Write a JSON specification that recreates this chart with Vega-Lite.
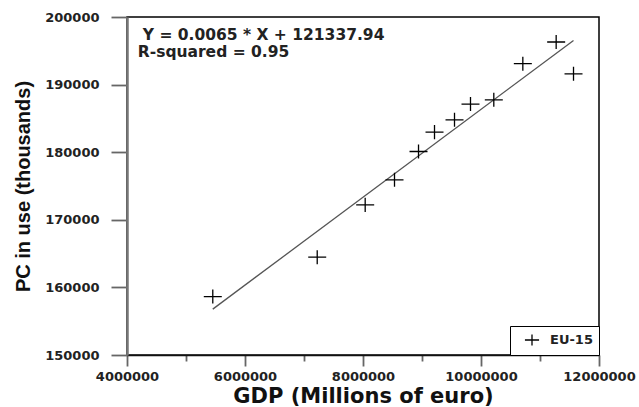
{
  "$schema": "https://vega.github.io/schema/vega-lite/v6.json",
  "width": 472,
  "height": 338,
  "autosize": "none",
  "padding": {"left": 127, "top": 17, "right": 40, "bottom": 52},
  "background": "white",
  "config": {
    "view": {"stroke": "#000", "strokeWidth": 1.5},
    "font": "DejaVu Sans",
    "axis": {"grid": false}
  },
  "datasets": {
    "points": [
      {"gdp": 5454000, "pc": 158650, "series": "EU-15"},
      {"gdp": 7224000, "pc": 164470, "series": "EU-15"},
      {"gdp": 8037000, "pc": 172210, "series": "EU-15"},
      {"gdp": 8534000, "pc": 175910, "series": "EU-15"},
      {"gdp": 8941000, "pc": 180100, "series": "EU-15"},
      {"gdp": 9212000, "pc": 182970, "series": "EU-15"},
      {"gdp": 9551000, "pc": 184790, "series": "EU-15"},
      {"gdp": 9822000, "pc": 187120, "series": "EU-15"},
      {"gdp": 10217000, "pc": 187750, "series": "EU-15"},
      {"gdp": 10709000, "pc": 193090, "series": "EU-15"},
      {"gdp": 11274000, "pc": 196300, "series": "EU-15"},
      {"gdp": 11568000, "pc": 191600, "series": "EU-15"}
    ],
    "fit": [
      {"gdp": 5454000, "pc": 156789},
      {"gdp": 11568000, "pc": 196530}
    ],
    "notes": [
      {"gdp": 4268000, "pc": 197276, "label": "Y = 0.0065 * X + 121337.94"},
      {"gdp": 4183000, "pc": 194818, "label": "R-squared = 0.95"}
    ]
  },
  "layer": [
    {
      "data": {"name": "fit"},
      "mark": {"type": "line", "color": "#555", "strokeWidth": 1.3},
      "encoding": {
        "x": {
          "field": "gdp",
          "type": "quantitative",
          "scale": {"domain": [4000000, 12000000], "nice": false, "zero": false},
          "axis": {
            "values": [4000000, 5000000, 6000000, 7000000, 8000000, 9000000, 10000000, 11000000, 12000000],
            "format": "d",
            "labelExpr": "datum.value % 2000000 === 0 ? datum.label : ''",
            "tickSize": {"condition": {"test": "datum.value % 2000000 === 0", "value": 11}, "value": 6},
            "tickColor": "#666",
            "tickWidth": 1.8,
            "domainColor": "#111",
            "domainWidth": 1.5,
            "labelFont": "DejaVu Sans",
            "labelFontWeight": "bold",
            "labelFontSize": 13,
            "labelColor": "#222",
            "labelPadding": 4,
            "labelFlush": false,
            "labelOverlap": false,
            "title": "GDP (Millions of euro)",
            "titleFont": "DejaVu Sans",
            "titleFontSize": 21,
            "titleFontWeight": "bold",
            "titleColor": "#111",
            "titlePadding": 2
          }
        },
        "y": {
          "field": "pc",
          "type": "quantitative",
          "scale": {"domain": [150000, 200000], "nice": false, "zero": false},
          "axis": {
            "values": [150000, 155000, 160000, 165000, 170000, 175000, 180000, 185000, 190000, 195000, 200000],
            "format": "d",
            "labelExpr": "datum.value % 10000 === 0 ? datum.label : ''",
            "tickSize": {"condition": {"test": "datum.value % 10000 === 0", "value": 16}, "value": 8},
            "tickColor": "#666",
            "tickWidth": 1.8,
            "domainColor": "#777",
            "domainWidth": 2.5,
            "labelFont": "DejaVu Sans",
            "labelFontWeight": "bold",
            "labelFontSize": 13,
            "labelColor": "#222",
            "labelPadding": 12,
            "labelFlush": false,
            "labelOverlap": false,
            "title": "PC in use (thousands)",
            "titleFont": "Liberation Sans",
            "titleFontSize": 20,
            "titleFontWeight": "bold",
            "titleColor": "#111",
            "titlePadding": 11
          }
        }
      }
    },
    {
      "data": {"name": "points"},
      "mark": {"type": "point", "shape": "M-1,0H1M0,-0.78V0.78", "filled": false, "size": 324, "strokeWidth": 1.3, "opacity": 1},
      "encoding": {
        "x": {"field": "gdp", "type": "quantitative"},
        "y": {"field": "pc", "type": "quantitative"},
        "color": {
          "field": "series",
          "type": "nominal",
          "scale": {"range": ["#000"]},
          "legend": {
            "title": null,
            "orient": "bottom-right",
            "offset": 0,
            "strokeColor": "#000",
            "fillColor": "white",
            "padding": 6,
            "symbolSize": 200,
            "symbolStrokeWidth": 1.3,
            "symbolOffset": 8,
            "labelFont": "DejaVu Sans",
            "labelFontWeight": "bold",
            "labelFontSize": 13,
            "labelColor": "#222",
            "labelOffset": 10
          }
        }
      }
    },
    {
      "data": {"name": "notes"},
      "mark": {"type": "text", "align": "left", "baseline": "middle", "font": "DejaVu Sans", "fontWeight": "bold", "fontSize": 15.5, "color": "#222"},
      "encoding": {
        "x": {"field": "gdp", "type": "quantitative"},
        "y": {"field": "pc", "type": "quantitative"},
        "text": {"field": "label", "type": "nominal"}
      }
    }
  ]
}
